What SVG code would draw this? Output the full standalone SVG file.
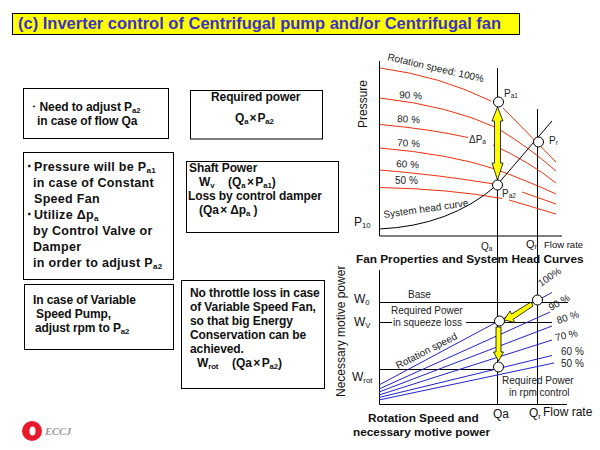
<svg xmlns="http://www.w3.org/2000/svg" width="600" height="450" viewBox="0 0 600 450">
<style>
text{font-family:"Liberation Sans",Arial,sans-serif;fill:#111}
.box{fill:#fff;stroke:#000;stroke-width:1}
.b{font-size:12px;font-weight:bold;letter-spacing:-.1px}
.w{font-size:12.5px;font-weight:bold;letter-spacing:.3px}
.l{font-size:10px;fill:#222}
.m{font-size:12px}
.h{font-size:11.800px;font-weight:bold}
.s{font-size:65%;baseline-shift:-20%}
.ax{fill:none;stroke:#000;stroke-width:1}
.red{fill:none;stroke:#f03010;stroke-width:1}
.blue{fill:none;stroke:#2222cc;stroke-width:1}
.pt{fill:#fff;stroke:#000;stroke-width:1}
.arr{fill:#ffff00;stroke:#000;stroke-width:.8}
</style>
<rect width="600" height="450" fill="#fff"/>
<g id="title"><rect x="12.500" y="13.500" width="507" height="21" fill="#ffff00" stroke="#000"/>
<text x="18" y="28.500" style="font-size:16.500px;font-weight:bold;fill:#3a32c8">(c) Inverter control of Centrifugal pump and/or Centrifugal fan</text></g>

<g id="box-need"><rect class="box" x="23.500" y="88.500" width="145" height="50"/>
<text class="b" x="31" y="111">･</text><text class="b" x="39.500" y="111">Need to adjust P<tspan class="s">a2</tspan></text>
<text class="b" x="37" y="125">in case of flow  Qa</text></g>
<g id="box-required"><rect class="box" x="190.500" y="90.500" width="132" height="48.500"/>
<text class="b" x="211" y="101">Required power</text>
<text class="b" x="235" y="122">Q<tspan class="s">a</tspan><tspan dx="1">×</tspan><tspan dx="1">P</tspan><tspan class="s">a2</tspan></text></g>
<g id="box-pressure"><rect class="box" x="23.500" y="152.500" width="150" height="127"/>
<text class="w" x="26" y="171">･</text><text class="w" x="34" y="171">Pressure will be P<tspan class="s">a1</tspan></text>
<text class="w" x="33" y="187">in case of Constant</text>
<text class="w" x="34" y="203">Speed Fan</text>
<text class="w" x="26" y="219">･</text><text class="w" x="34" y="219">Utilize Δp<tspan class="s">a</tspan></text>
<text class="w" x="33" y="235">by Control Valve or</text>
<text class="w" x="33" y="251">Damper</text>
<text class="w" x="33" y="267">in order to adjust P<tspan class="s">a2</tspan></text></g>
<g id="box-shaft"><rect class="box" x="186.500" y="161.500" width="152" height="71"/>
<text class="b" x="189" y="172">Shaft Power</text>
<text class="b" x="199" y="186">W<tspan class="s">v</tspan><tspan x="228">(Q</tspan><tspan class="s">a</tspan><tspan dx="1.500">×</tspan><tspan dx="1.500">P</tspan><tspan class="s">a1</tspan>)</text>
<text class="b" x="188" y="200">Loss by control damper</text>
<text class="b" x="199" y="214">(Qa<tspan dx="1.500">×</tspan><tspan dx="3">Δp</tspan><tspan class="s">a</tspan> )</text></g>
<g id="box-variable"><rect class="box" x="24.500" y="284.500" width="149" height="65"/>
<text class="b" x="33" y="304">In case of Variable</text>
<text class="b" x="36" y="318">Speed Pump,</text>
<text class="b" x="35" y="332">adjust rpm to P<tspan class="s">a2</tspan></text></g>
<g id="box-nothrottle"><rect class="box" x="181.500" y="280.500" width="143" height="108"/>
<text class="b" x="190" y="297">No throttle loss in case</text>
<text class="b" x="190" y="311">of Variable Speed Fan,</text>
<text class="b" x="190" y="325">so that big Energy</text>
<text class="b" x="190" y="339">Conservation can be</text>
<text class="b" x="190" y="353">achieved.</text>
<text class="b" x="197" y="367">W<tspan class="s">rot</tspan><tspan x="232">(Qa</tspan><tspan dx="1.500">×</tspan><tspan dx="1.500">P</tspan><tspan class="s">a2</tspan>)</text></g>

<g id="connectors">
<path class="ax" d="M379.500 61V236H562M497.500 68V404M537.500 109V404"/>
<path class="red" d="M380 68Q440 76 491 101M503 108L556 162"/>
<path class="red" d="M380 98Q450 106 497 128Q530 148 556 171"/>
<path class="red" d="M380 124.500Q430 129 468 137.500M493 145Q530 162 556 183"/>
<path class="red" d="M380 148Q450 154 495 169Q530 182 556 194"/>
<path class="red" d="M380 170Q440 175 494 184M522 192L556 204"/>
<path class="red" d="M380 187.500Q450 189 502 198.500M509 200L556 214"/>
<path class="ax" d="M379 229Q450 226 497 185L552 121"/>

<path class="ax" d="M379.500 270V404.500H567M379 302.500H568M379 322.500H392M466 322.500H552M379 369.500H497"/>
<path class="blue" d="M379 385L552 292.500M379 389L550 312M379 392L552 326M379 395L552 340M379 397.500L552 355.500M379 400L554 363"/>
<path class="arr" d="M497.500 107L503 121H500.500V163H503L497.500 180L492 163H494.500V121H492Z"/>
<path class="arr" d="M531 302L533 306L513 319.500L515 322.500L504 320L510 311L511.500 314Z"/>
<path class="arr" d="M496 327H501V352H503.500L498.500 361L493.500 352H496Z"/>

<circle class="pt" cx="498.500" cy="102" r="5"/>
<circle class="pt" cx="538.500" cy="142" r="5"/>
<circle class="pt" cx="497.500" cy="185" r="5"/>
<circle class="pt" cx="537.500" cy="300" r="5"/>
<circle class="pt" cx="499.500" cy="321" r="5"/>
<circle class="pt" cx="498.500" cy="367" r="5"/>
</g>

<g id="chart-labels">
<text class="l" transform="translate(387 60) rotate(13)">Rotation speed: 100%</text>
<text class="l" x="399" y="98" transform="rotate(3 399 98)">90 %</text>
<text class="l" x="397" y="122" transform="rotate(3 397 122)">80 %</text>
<text class="l" x="397" y="146" transform="rotate(3 397 146)">70 %</text>
<text class="l" x="396" y="167" transform="rotate(3 396 167)">60 %</text>
<text class="l" x="395" y="184">50 %</text>
<text class="l" transform="translate(384 218) rotate(-8)">System head curve</text>
<text class="m" transform="translate(367 128) rotate(-90)">Pressure</text>
<text class="l" x="469" y="143">ΔP<tspan class="s">a</tspan></text>
<text class="l" x="504" y="97">P<tspan class="s">a1</tspan></text>
<text class="l" x="549" y="144">P<tspan class="s">r</tspan></text>
<text class="l" x="502" y="197">P<tspan class="s">a2</tspan></text>
<text class="m" x="354" y="226">P<tspan class="s">10</tspan></text>
<text class="l" x="481" y="250">Q<tspan class="s">a</tspan></text>
<text x="526" y="248" style="font-size:11px">Q<tspan class="s">r</tspan></text>
<text x="544" y="248" style="font-size:9.500px">Flow rate</text>
<text class="h" x="356" y="263">Fan Properties and System Head Curves</text>

<text class="m" transform="translate(345 397) rotate(-90)">Necessary motive power</text>
<text class="m" x="354" y="303">W<tspan class="s">0</tspan></text>
<text class="m" x="354" y="326">W<tspan class="s">V</tspan></text>
<text class="m" x="352" y="381">W<tspan class="s">rot</tspan></text>
<text class="l" x="408" y="298">Base</text>
<text class="l" x="391" y="314">Required Power</text>
<text class="l" x="393" y="326">in squeeze loss</text>
<text class="l" transform="translate(398 369) rotate(-27)">Rotation speed</text>
<text class="l" x="502" y="384">Required Power</text>
<text class="l" x="509" y="396">in rpm control</text>
<text class="l" transform="translate(541 287) rotate(-35)">100%</text>
<text class="l" transform="translate(551 311) rotate(-30)">90 %</text>
<text class="l" transform="translate(558 324) rotate(-18)">80 %</text>
<text class="l" transform="translate(556 341) rotate(-12)">70 %</text>
<text class="l" x="561" y="355">60 %</text>
<text class="l" x="561" y="367">50 %</text>
<text class="m" x="493" y="418">Qa</text>
<text class="m" x="529" y="417">Q<tspan class="s">r</tspan></text>
<text class="m" x="543" y="416">Flow rate</text>
<text class="h" x="368" y="422">Rotation Speed and</text>
<text class="h" x="353" y="436">necessary motive power</text>
</g>

<g id="logo">
<circle cx="32" cy="431" r="10" fill="#e8192c"/>
<ellipse cx="32.500" cy="431" rx="3" ry="4.500" fill="#fff"/>
<text x="45" y="435" style="font-family:'Liberation Serif',serif;font-size:10.500px;font-weight:bold;font-style:italic;fill:#999">ECCJ</text>
</g>
</svg>
